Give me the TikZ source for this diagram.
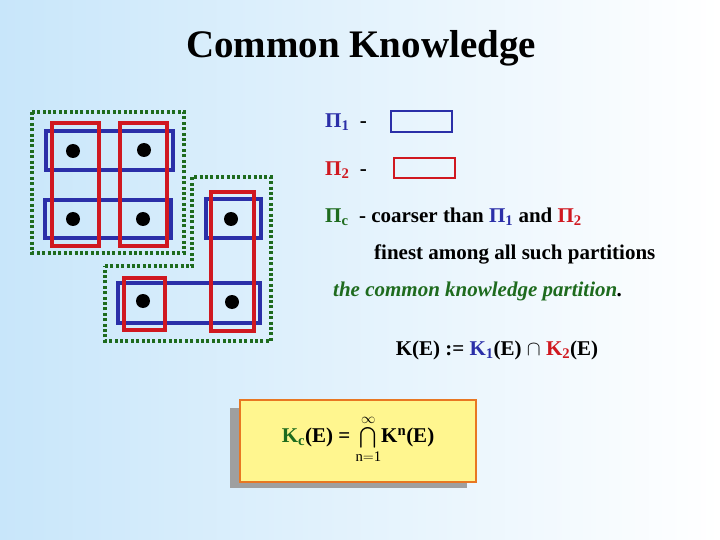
\documentclass[tikz,border=0pt]{standalone}
\usepackage{amsmath}
\usepackage{fontspec}
\setmainfont{Liberation Serif}
\definecolor{bgb}{HTML}{C8E6FA}
\definecolor{pb}{HTML}{2B2FA8}
\definecolor{pr}{HTML}{D01820}
\definecolor{pg}{HTML}{1E6B1E}
\definecolor{yb}{HTML}{FFF68F}
\definecolor{ob}{HTML}{E87722}
\begin{document}
\begin{tikzpicture}[x=1pt,y=-1pt,
  brect/.style={draw=pb,line width=3.2pt},
  rrect/.style={draw=pr,line width=3.2pt},
  grn/.style={draw=pg,line width=3.4pt,dash pattern=on 3pt off 2.4pt},
  dot/.style={circle,fill=black,inner sep=0pt,minimum size=14pt},
  txt/.style={font=\fontsize{21}{24}\selectfont\bfseries,anchor=west,inner sep=0pt}]
\shade[left color=bgb,right color=white,shading angle=90] (0,0) rectangle (720,540);
\useasboundingbox (0,0) rectangle (720,540);
\node[font=\fontsize{39}{44}\selectfont\bfseries] (title) at (361,48) {Common Knowledge};
% green partitions
\draw[grn] (32,112) rectangle (184,253);
\draw[grn] (105,266) -- (192,266) -- (192,177) -- (271,177) -- (271,341) -- (105,341) -- cycle;
% blue
\draw[brect] (46,131) rectangle (173,170);
\draw[brect] (45,200) rectangle (171,238);
\draw[brect] (206,199) rectangle (261,238);
\draw[brect] (118,283) rectangle (260,323);
% red
\draw[rrect] (52,123) rectangle (99,246);
\draw[rrect] (120,123) rectangle (167,246);
\draw[rrect] (211,192) rectangle (254,331);
\draw[rrect] (124,278) rectangle (165,330);
% dots
\node[dot] (d1) at (73,151) {};
\node[dot] (d2) at (144,150) {};
\node[dot] (d3) at (73,219) {};
\node[dot] (d4) at (143,219) {};
\node[dot] (d5) at (231,219) {};
\node[dot] (d6) at (143,301) {};
\node[dot] (d7) at (232,302) {};
% legend
\node[txt] (p1) at (325,122) {\textcolor{pb}{Π\textsubscript{1}}\ \ -};
\draw[draw=pb,line width=2.8pt] (391,111) rectangle (452,132);
\node[txt] (p2) at (325,170) {\textcolor{pr}{Π\textsubscript{2}}\ \ -};
\draw[draw=pr,line width=2.8pt] (394,158) rectangle (455,178);
\node[txt] (pc) at (325,217) {\textcolor{pg}{Π\textsubscript{c}}\ \ - coarser than \textcolor{pb}{Π\textsubscript{1}} and \textcolor{pr}{Π\textsubscript{2}}};
\node[txt] (fin) at (374,254) {finest among all such partitions};
\node[txt,font=\fontsize{21}{24}\selectfont\bfseries\itshape] (cl) at (333,291) {\textcolor{pg}{the common knowledge partition}.};
\node[txt,anchor=center] (ke) at (497,350) {K(E) := \textcolor{pb}{K\textsubscript{1}}(E) $\cap$ \textcolor{pr}{K\textsubscript{2}}(E)};
% box
\fill[gray!75] (230,408) rectangle (467,488);
\node[fill=yb,draw=ob,line width=2.8pt,minimum width=236pt,minimum height=82pt,inner sep=0pt] (box) at (358,441) {};
\node[txt,anchor=center] (kc) at (358,439) {\textcolor{pg}{K\textsubscript{c}}(E) = $\textstyle\bigcap\limits_{\mathrm{n=1}}^{\scriptstyle\infty}$K\textsuperscript{n}(E)};
\end{tikzpicture}
\end{document}
